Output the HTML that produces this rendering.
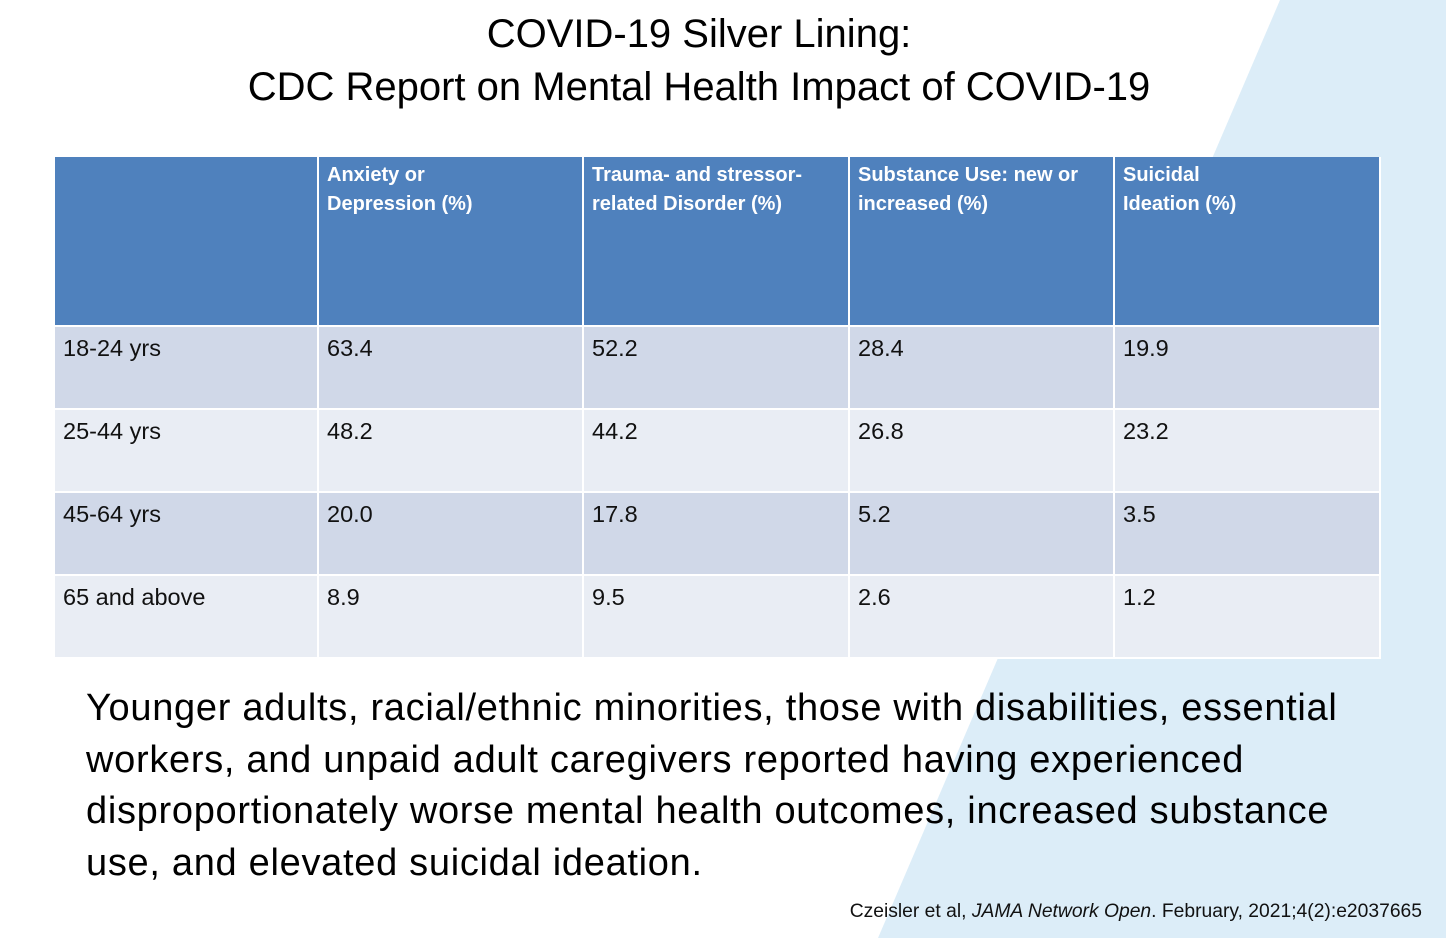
<!DOCTYPE html>
<html><head><meta charset="utf-8"><style>
html,body{margin:0;padding:0}
body{width:1446px;height:938px;position:relative;overflow:hidden;background:#fff;font-family:"Liberation Sans",sans-serif;}
#bg{position:absolute;left:0;top:0}
.title{position:absolute;left:0;width:1398px;text-align:center;font-size:40px;color:#000;}
table{position:absolute;left:55px;top:157px;border-collapse:separate;border-spacing:0;}
td,th{vertical-align:top;text-align:left;padding:0 8px;border-right:2px solid #fff;border-bottom:2px solid #fff;}
th{background:#4f81bd;color:#fff;font-weight:bold;font-size:20px;line-height:29px;padding-top:4px;height:170px;box-sizing:border-box}
td{font-size:23.5px;color:#111;padding-top:8px;box-sizing:border-box;height:83px}
tr.o td{background:#d0d8e8}
tr.e td{background:#e9edf4}
.body{position:absolute;left:86px;top:683px;font-size:38px;line-height:51.5px;color:#000;letter-spacing:0.7px;white-space:nowrap}
.cite{position:absolute;right:24px;top:901px;font-size:19.3px;color:#111}
</style></head><body>
<svg id="bg" width="1446" height="938"><polygon points="1280,0 1446,0 1446,938 878,938" fill="#dcedf8"/></svg>
<div class="title" style="top:12px">COVID-19 Silver Lining:</div>
<div class="title" style="top:65px">CDC Report on Mental Health Impact of COVID-19</div>
<table>
<tr><th style="width:264px"></th><th style="width:265px">Anxiety or<br>Depression (%)</th><th style="width:266px">Trauma- and stressor-<br>related Disorder (%)</th><th style="width:265px">Substance Use: new or<br>increased (%)</th><th style="width:266px">Suicidal<br>Ideation (%)</th></tr>
<tr class="o"><td>18-24 yrs</td><td>63.4</td><td>52.2</td><td>28.4</td><td>19.9</td></tr>
<tr class="e"><td>25-44 yrs</td><td>48.2</td><td>44.2</td><td>26.8</td><td>23.2</td></tr>
<tr class="o"><td>45-64 yrs</td><td>20.0</td><td>17.8</td><td>5.2</td><td>3.5</td></tr>
<tr class="e"><td>65 and above</td><td>8.9</td><td>9.5</td><td>2.6</td><td>1.2</td></tr>
</table>
<div class="body">Younger adults, racial/ethnic minorities, those with disabilities, essential<br>workers, and unpaid adult caregivers reported having experienced<br>disproportionately worse mental health outcomes, increased substance<br>use, and elevated suicidal ideation.</div>
<div class="cite">Czeisler et al, <i>JAMA Network Open</i>. February, 2021;4(2):e2037665</div>
</body></html>
